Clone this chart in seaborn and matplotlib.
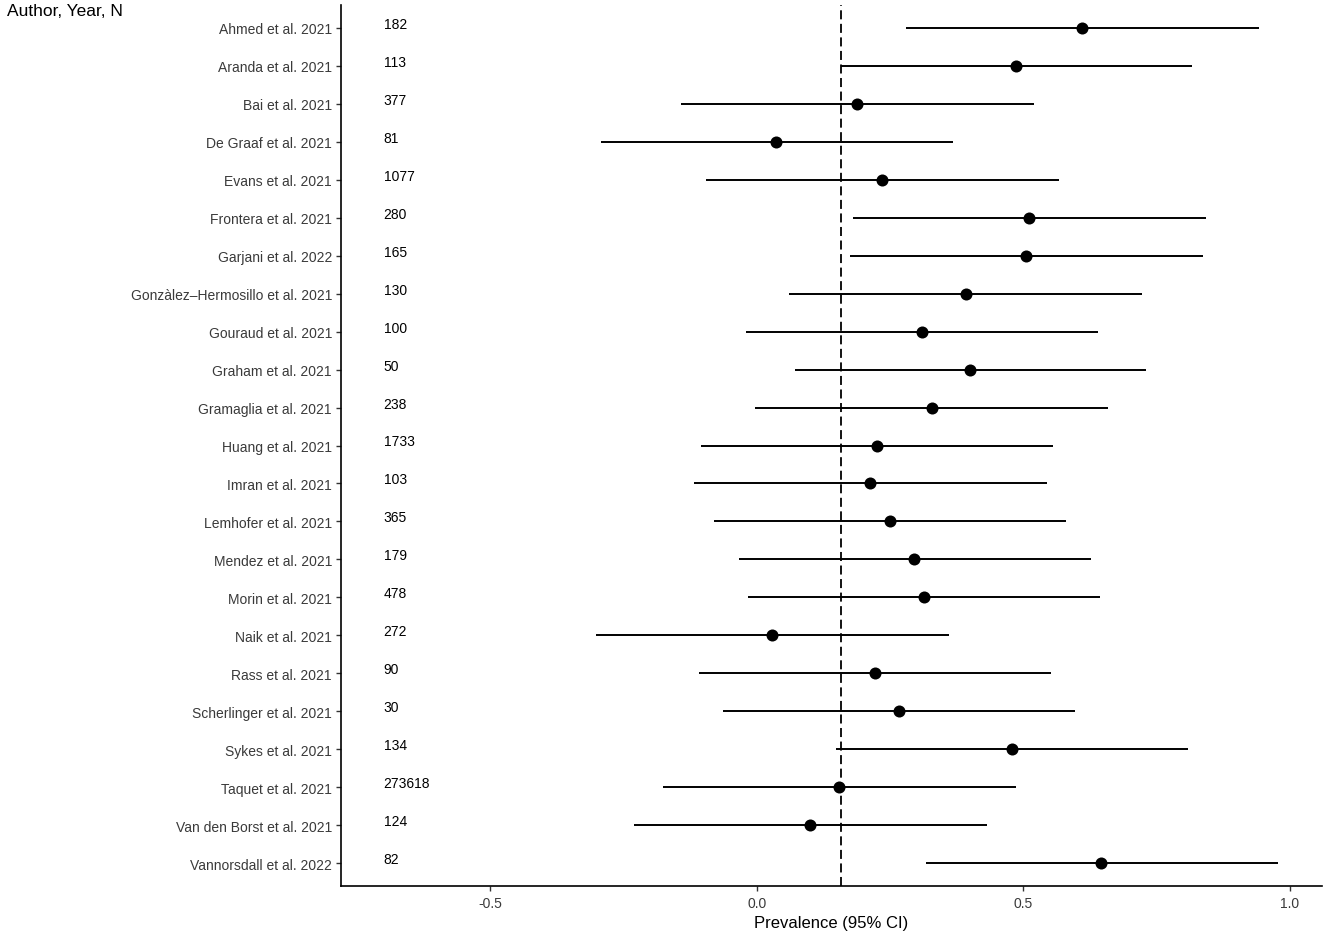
import matplotlib
matplotlib.use("Agg")
import matplotlib.pyplot as plt
import seaborn as sns
import pandas as pd

studies = ["Ahmed et al. 2021", "Aranda et al. 2021", "Bai et al. 2021", "De Graaf et al. 2021",
           "Evans et al. 2021", "Frontera et al. 2021", "Garjani et al. 2022",
           "Gonzàlez\u2013Hermosillo et al. 2021", "Gouraud et al. 2021", "Graham et al. 2021",
           "Gramaglia et al. 2021", "Huang et al. 2021", "Imran et al. 2021", "Lemhofer et al. 2021",
           "Mendez et al. 2021", "Morin et al. 2021", "Naik et al. 2021", "Rass et al. 2021",
           "Scherlinger et al. 2021", "Sykes et al. 2021", "Taquet et al. 2021",
           "Van den Borst et al. 2021", "Vannorsdall et al. 2022"]
n_sizes = ["182", "113", "377", "81", "1077", "280", "165", "130", "100", "50", "238", "1733",
           "103", "365", "179", "478", "272", "90", "30", "134", "273618", "124", "82"]
estimates = [0.610, 0.486, 0.188, 0.036, 0.235, 0.510, 0.504, 0.392, 0.309, 0.399, 0.328, 0.226,
             0.213, 0.249, 0.295, 0.313, 0.029, 0.222, 0.266, 0.478, 0.155, 0.099, 0.645]
lower = [0.280, 0.157, -0.143, -0.293, -0.096, 0.180, 0.174, 0.060, -0.020, 0.071, -0.003, -0.104,
         -0.117, -0.081, -0.034, -0.017, -0.301, -0.108, -0.064, 0.148, -0.176, -0.231, 0.317]
upper = [0.941, 0.816, 0.519, 0.367, 0.566, 0.842, 0.836, 0.722, 0.640, 0.730, 0.658, 0.556,
         0.544, 0.579, 0.626, 0.644, 0.360, 0.552, 0.597, 0.808, 0.486, 0.431, 0.977]
pooled = 0.158
x_ticks = [-0.5, 0.0, 0.5, 1.0]
x_tick_labels = ["-0.5", "0.0", "0.5", "1.0"]

df = pd.DataFrame({"study": studies, "n": n_sizes, "est": estimates, "lo": lower, "hi": upper})

sns.set_theme(style="ticks")
plt.rcParams["font.family"] = ["Liberation Sans", "DejaVu Sans"]

fig = plt.figure(figsize=(13.25, 9.37), dpi=100)
fig.patch.set_facecolor("white")
ax = fig.add_axes([341 / 1325, 1 - 887 / 937, (1322 - 341) / 1325, (887 - 6) / 937])
ax.set_facecolor("white")

ax.hlines(df["study"], df["lo"], df["hi"], color="black", lw=1.4, zorder=2)
sns.scatterplot(data=df, x="est", y="study", ax=ax, color="black", s=75,
                edgecolor="black", linewidth=0, zorder=3, legend=False)
ax.axvline(pooled, color="black", ls=(0, (5, 2.5)), lw=1.3, zorder=1)

for i, row in df.iterrows():
    ax.text(-0.70, i, row["n"], ha="left", va="baseline", fontsize=10, color="black")

ax.set_xlim(-0.78, 1.06)
ax.set_ylim(len(df) - 0.4, -0.6)
ax.set_xticks(x_ticks)
ax.set_xticklabels(x_tick_labels)
ax.tick_params(axis="both", direction="out", length=3.5, width=1, color="#333333",
               labelsize=10, labelcolor="#3a3a3a", top=False, right=False)
ax.tick_params(axis="x", pad=4)
ax.tick_params(axis="y", pad=3)
for s in ["top", "right"]:
    ax.spines[s].set_visible(False)
for s in ["left", "bottom"]:
    ax.spines[s].set_linewidth(1.2)
    ax.spines[s].set_color("black")
ax.grid(False)
ax.set_ylabel("")
ax.set_xlabel("Prevalence (95% CI)", fontsize=12, color="black", labelpad=3)

fig.text(7 / 1325, 1 - 12 / 937, "Author, Year, N", fontsize=12.5, ha="left", va="center", color="black")

fig.savefig("out.png", dpi=100, facecolor="white")
